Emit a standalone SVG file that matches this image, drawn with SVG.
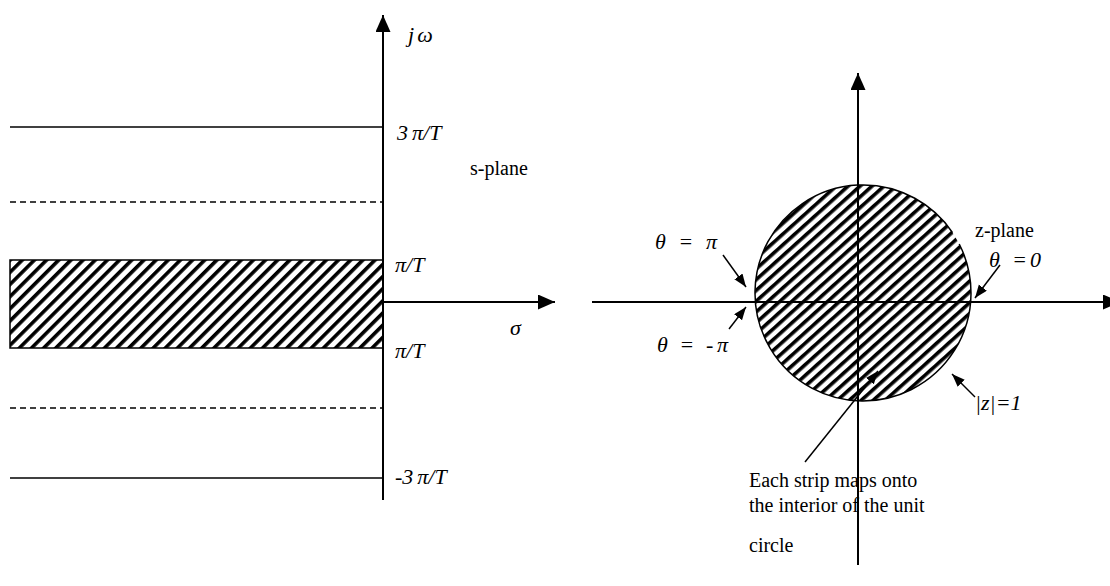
<svg xmlns="http://www.w3.org/2000/svg" width="1110" height="586" viewBox="0 0 1110 586">
<style>
.ln{stroke:#000;stroke-width:1.5;fill:none}
.ax{stroke:#000;stroke-width:2;fill:none}
.dash{stroke:#000;stroke-width:1.5;fill:none;stroke-dasharray:6,4}
.t{font-family:"Liberation Serif","Times New Roman",serif;font-size:20px;fill:#000}
.i{font-style:italic;font-size:22px}
</style>
<defs>
<pattern id="hs" patternUnits="userSpaceOnUse" width="8.6" height="8.6" patternTransform="rotate(45)"><rect width="3.6" height="8.6" fill="#000"/></pattern>
<pattern id="hc" patternUnits="userSpaceOnUse" width="8" height="8" patternTransform="rotate(48)"><rect width="3.6" height="8" fill="#000"/></pattern>
<marker id="big" markerUnits="userSpaceOnUse" markerWidth="18" markerHeight="16" refX="17" refY="7.5" orient="auto"><path d="M0,0 L17,7.5 L0,15 z" fill="#000"/></marker>
<marker id="sm" markerUnits="userSpaceOnUse" markerWidth="14" markerHeight="12" refX="13" refY="5" orient="auto"><path d="M0,0 L13,5 L0,10 z" fill="#000"/></marker>
</defs>
<rect width="1110" height="586" fill="#fff"/>

<g id="s-plane">
<rect x="10" y="260" width="373" height="88" fill="url(#hs)" stroke="#000" stroke-width="1.5"/>
<line class="ln" x1="10" y1="127" x2="383" y2="127"/>
<line class="dash" x1="10" y1="202" x2="383" y2="202"/>
<line class="dash" x1="10" y1="408" x2="383" y2="408"/>
<line class="ln" x1="10" y1="478" x2="383" y2="478"/>
</g>

<g id="z-plane">
<circle cx="863" cy="293" r="108" fill="url(#hc)"/>
<path class="ln" d="M959.23,243.97 A108,108 0 1 1 952.54,232.61"/>
</g>

<g id="connectors">
<line class="ax" x1="383" y1="500" x2="383" y2="15" marker-end="url(#big)"/>
<line class="ax" x1="383" y1="302" x2="555" y2="302" marker-end="url(#big)"/>
<line class="ax" x1="858" y1="565" x2="858" y2="73" marker-end="url(#big)"/>
<line class="ax" x1="592" y1="302" x2="1120" y2="302" marker-end="url(#big)"/>
<line class="ln" x1="723" y1="255" x2="746" y2="287" marker-end="url(#sm)"/>
<line class="ln" x1="729" y1="329" x2="746" y2="307" marker-end="url(#sm)"/>
<line class="ln" x1="1000" y1="265" x2="975" y2="298" marker-end="url(#sm)"/>
<line class="ln" x1="975" y1="397" x2="952" y2="374" marker-end="url(#sm)"/>
<line class="ln" x1="805" y1="462" x2="878" y2="371" marker-end="url(#sm)"/>
</g>

<g id="labels">
<text class="t i" x="408" y="42" font-size="24">j<tspan dx="3">ω</tspan></text>
<text class="t i" x="397" y="140">3<tspan dx="4">π/T</tspan></text>
<text class="t" x="470" y="175">s-plane</text>
<text class="t i" x="395" y="272">π/T</text>
<text class="t i" x="510" y="335" font-size="24">σ</text>
<text class="t i" x="395" y="358">π/T</text>
<text class="t i" x="395" y="484">-3<tspan dx="4">π/T</tspan></text>
<text class="t" x="975" y="237">z-plane</text>
<text class="t i" x="655" y="249" textLength="62" lengthAdjust="spacing">θ<tspan font-style="normal"> = </tspan>π</text>
<text class="t i" x="657" y="352" textLength="71" lengthAdjust="spacing">θ<tspan font-style="normal"> = -</tspan>π</text>
<text class="t i" x="989" y="267" textLength="52" lengthAdjust="spacing">θ<tspan font-style="normal"> =</tspan>0</text>
<text class="t i" x="975" y="410">|z|=1</text>
<text class="t" x="749" y="487">Each strip maps onto</text>
<text class="t" x="749" y="512">the interior of the unit</text>
<text class="t" x="749" y="552">circle</text>
</g>
</svg>
